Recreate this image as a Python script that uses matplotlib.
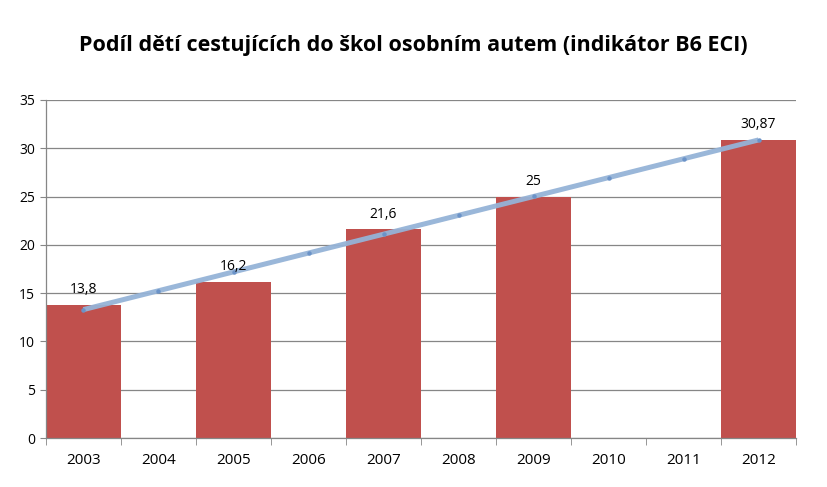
import numpy as np
import matplotlib
matplotlib.use("Agg")
import matplotlib.pyplot as plt

categories = ["2003", "2004", "2005", "2006", "2007", "2008", "2009", "2010", "2011", "2012"]
bar_years = ["2003", "2005", "2007", "2009", "2012"]
bar_values = [13.8, 16.2, 21.6, 25.0, 30.87]
bar_labels = ["13,8", "16,2", "21,6", "25", "30,87"]
title = "Podíl dětí cestujících do škol osobním autem (indikátor B6 ECI)"

plt.rcParams['font.family'] = ['Open Sans', 'DejaVu Sans']

fig = plt.figure(figsize=(8.27, 4.87), dpi=100)
ax = fig.add_axes([0.0556, 0.1006, 0.907, 0.6941])

xpos = np.arange(len(categories))
bx = np.array([categories.index(y) for y in bar_years])
ax.bar(bx, bar_values, width=1.0, color="#c0504d", zorder=2)

for x, v, lab in zip(bx, bar_values, bar_labels):
    ax.text(x, v + 0.8, lab, ha="center", va="bottom", fontsize=10, color="black", zorder=4)

# linear trendline (computed from the bar data)
coef = np.polyfit(bx, bar_values, 1)
trend = np.polyval(coef, xpos)
ax.plot(xpos, trend, color="#95b3d7", lw=3.6, alpha=0.95, zorder=3,
        solid_capstyle="butt")
ax.plot(xpos, trend, ls="none", marker="o", ms=2.2, color="#6b93c8", zorder=3.5)

ax.set_xlim(-0.5, len(categories) - 0.5)
ax.set_ylim(0, 35)
ax.set_yticks(np.arange(0, 36, 5))
ax.set_yticklabels([str(v) for v in range(0, 36, 5)], fontsize=10)
ax.set_xticks(xpos)
ax.set_xticklabels(categories, fontsize=11)
ax.set_xticks(np.arange(-0.5, len(categories), 1.0), minor=True)
ax.tick_params(axis="x", which="major", length=0, pad=11)
ax.tick_params(axis="x", which="minor", length=5, color="#868686", direction="out")
ax.tick_params(axis="y", length=4, color="#868686", pad=4)

ax.grid(axis="y", color="#868686", lw=0.9, zorder=0)
ax.set_axisbelow(True)
for s in ["top", "right"]:
    ax.spines[s].set_visible(False)
for s in ["left", "bottom"]:
    ax.spines[s].set_color("#868686")
    ax.spines[s].set_linewidth(0.9)

fig.text(0.5, 1 - 45 / 487, title, ha="center", va="center", fontsize=15.5,
         fontweight="bold", color="black")

fig.savefig("out.png", dpi=100)
